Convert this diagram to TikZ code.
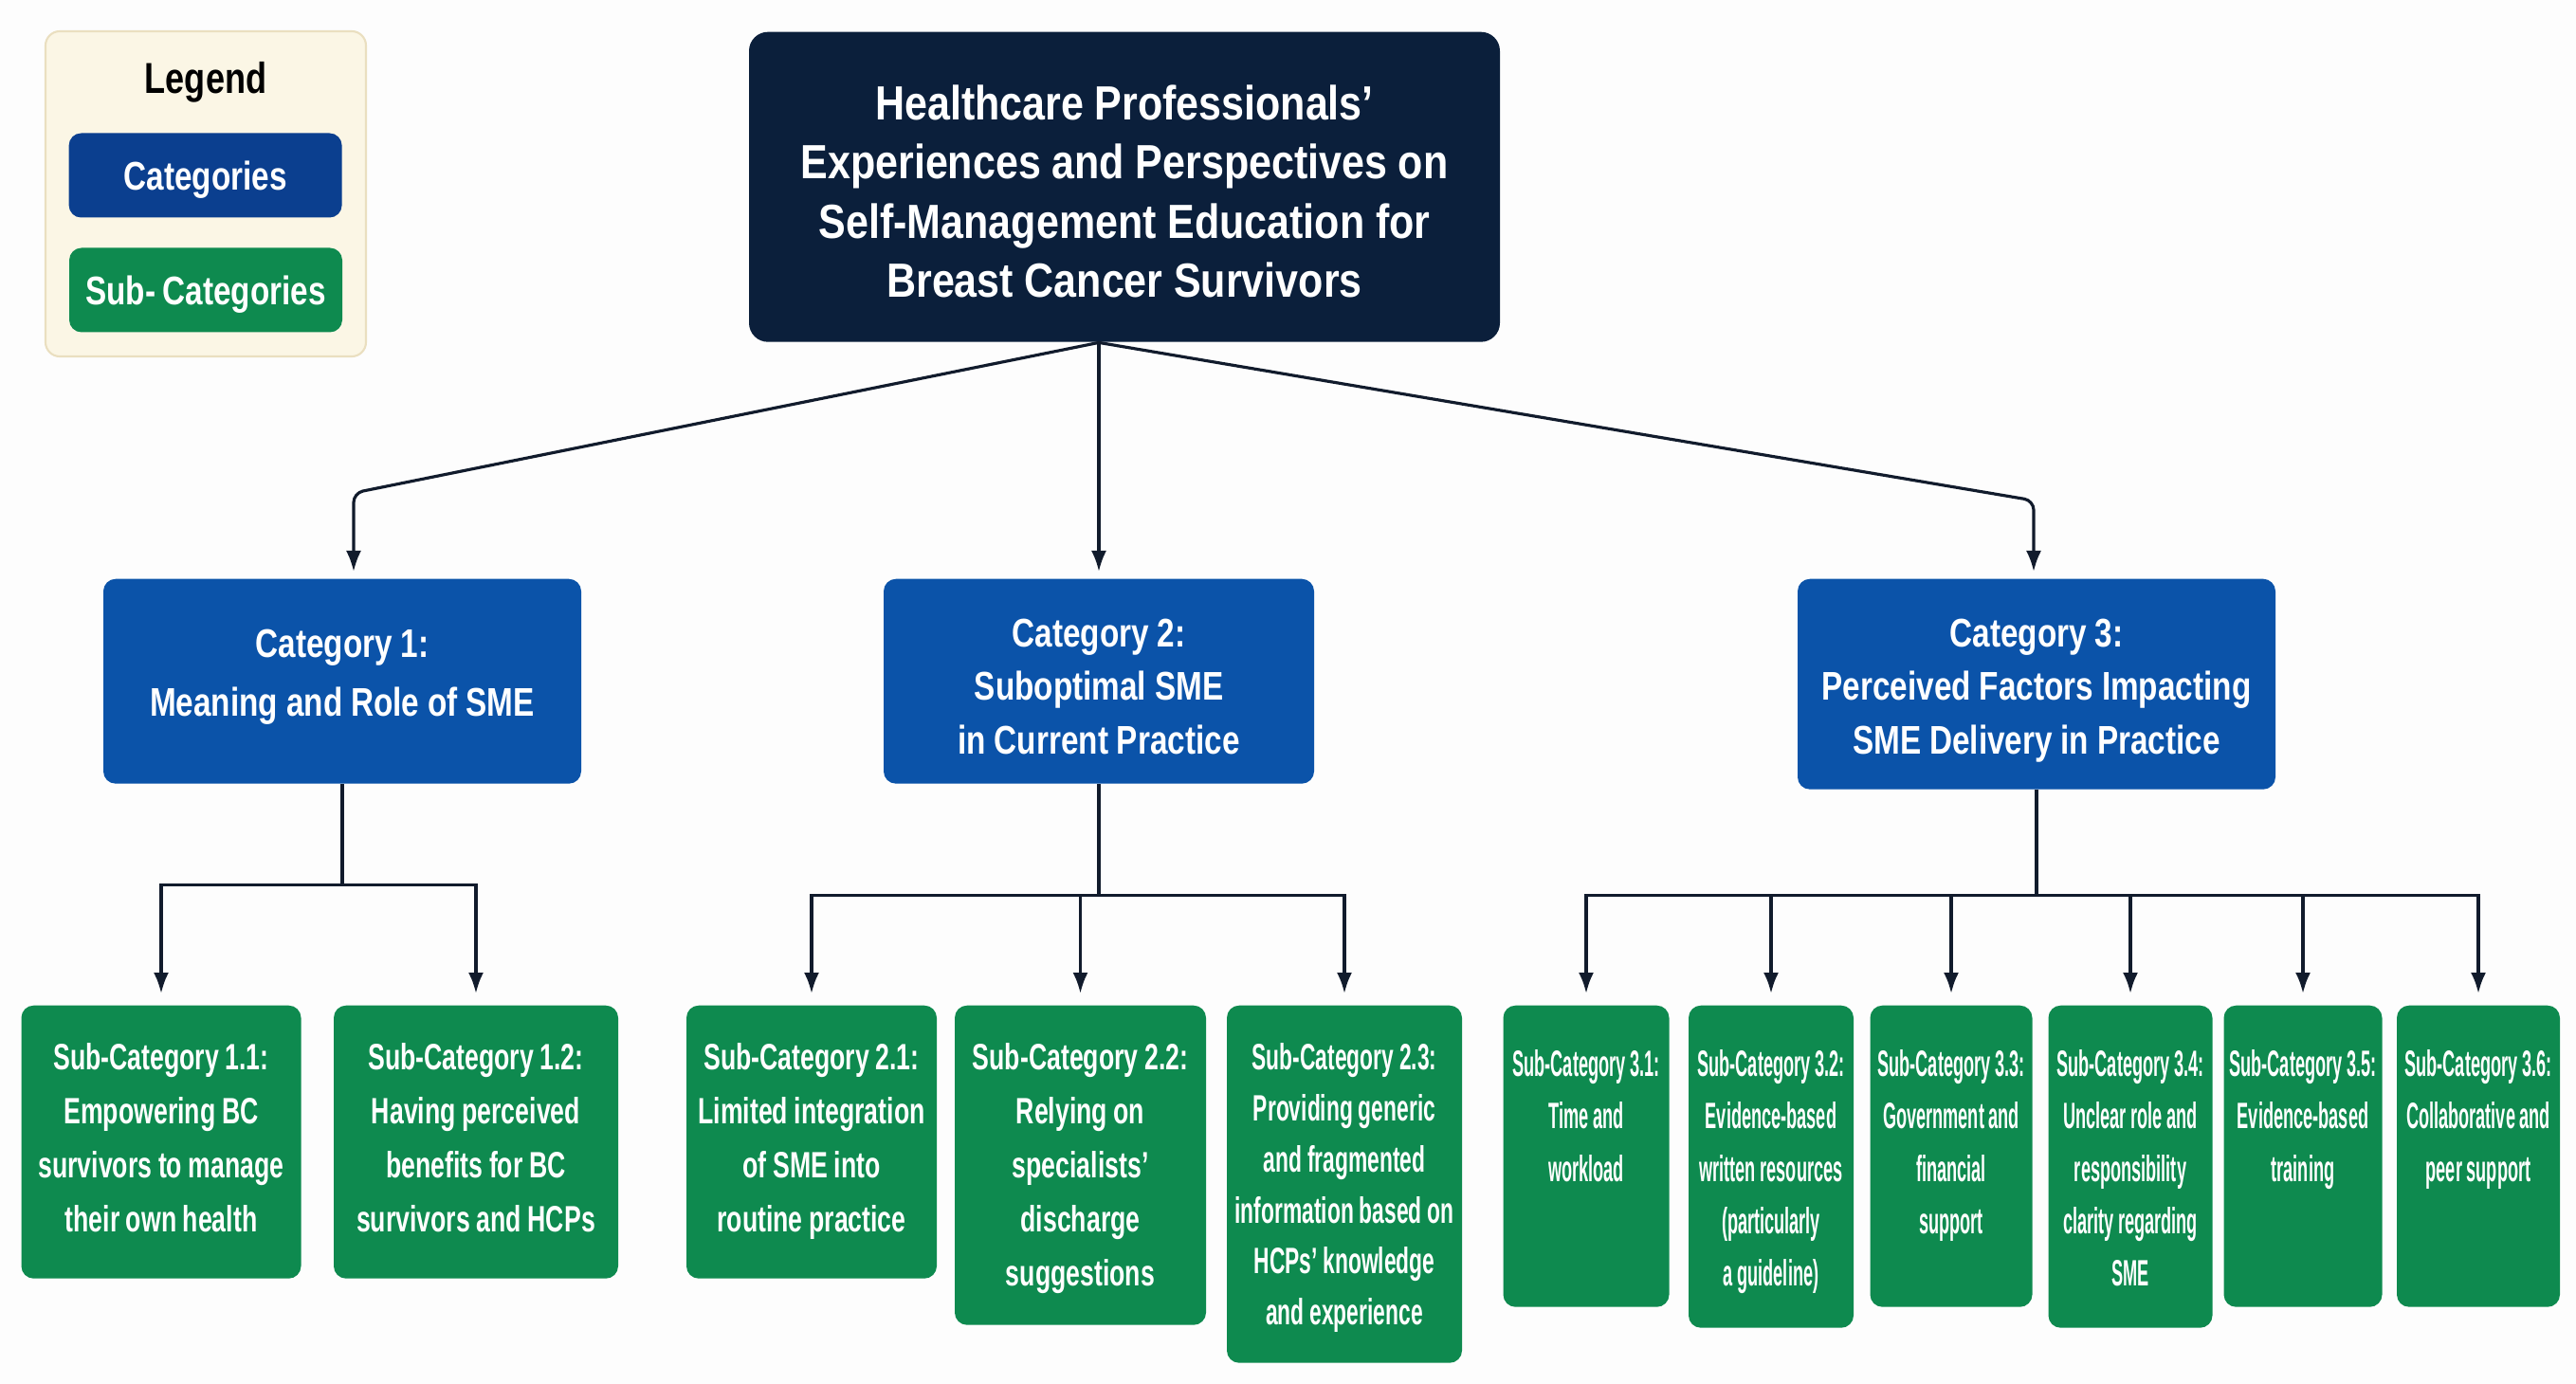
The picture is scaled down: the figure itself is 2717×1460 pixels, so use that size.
\documentclass[tikz,border=0pt]{standalone}
\usepackage{fontspec}
\usepackage{xcolor}
\usetikzlibrary{arrows.meta,positioning}
\newfontfamily\titlefont{Liberation Sans}[FakeStretch=0.85,WordSpace=0.85]
\newfontfamily\catfont{Liberation Sans}[FakeStretch=0.79,WordSpace=0.79]
\newfontfamily\subfont{Liberation Sans}[FakeStretch=0.69,WordSpace=0.69]
\newfontfamily\midfont{Liberation Sans}[FakeStretch=0.59,WordSpace=0.59]
\newfontfamily\narrowfont{Liberation Sans}[FakeStretch=0.47,WordSpace=0.47]
\definecolor{rootnavy}{HTML}{0B1F3B}
\definecolor{catblue}{HTML}{0B53A9}
\definecolor{legendblue}{HTML}{0B3F8F}
\definecolor{subgreen}{HTML}{0E8A4F}
\definecolor{legendcream}{HTML}{FBF6E5}
\definecolor{legendedge}{HTML}{EADFC0}
\definecolor{linknavy}{HTML}{111B2C}
\definecolor{paper}{HTML}{FDFDFD}
\tikzset{
  every node/.style={
    font=\catfont\bfseries
  },
  root/.style={
    shape=rectangle,
    rounded corners=2mm,
    fill=rootnavy,
    text=white,
    anchor=north,
    align=center,
    inner sep=0pt,
    text width=79.2mm,
    text height=9.25mm,
    text depth=23.45mm,
    font=\titlefont\bfseries\fontsize{14.4}{17.8}\selectfont,
    execute at begin node={\spaceskip=0.23em\relax}
  },
  category/.style n args={3}{
    shape=rectangle,
    rounded corners=1.3mm,
    fill=catblue,
    text=white,
    anchor=north,
    align=center,
    inner sep=0pt,
    text width=#1mm,
    text height=#2mm,
    text depth=#3mm,
    font=\catfont\bfseries\fontsize{12}{16}\selectfont,
    execute at begin node={\spaceskip=0.21em\relax}
  },
  subcat/.style n args={2}{
    shape=rectangle,
    rounded corners=1.3mm,
    fill=subgreen,
    text=white,
    anchor=north,
    inner sep=0pt,
    align=center,
    text width=#1mm,
    text height=6.8mm,
    text depth=#2mm,
    font=\subfont\bfseries\fontsize{11}{16.2}\selectfont,
    execute at begin node={\spaceskip=0.17em\relax}
  },
  subnarrow/.style n args={2}{
    subcat={#1}{#2},
    text height=7.5mm,
    font=\narrowfont\bfseries\fontsize{11}{15.7}\selectfont,
    execute at begin node={\spaceskip=0.12em\relax}
  },
  legendpanel/.style={
    shape=rectangle,
    rounded corners=1.5mm,
    fill=legendcream,
    draw=legendedge,
    line width=0.6pt,
    minimum width=33.8mm,
    minimum height=34.3mm
  },
  legendkey/.style={
    shape=rectangle,
    rounded corners=1.3mm,
    text=white,
    text depth=0pt,
    minimum width=28.8mm,
    minimum height=8.9mm,
    font=\catfont\bfseries\fontsize{12}{14}\selectfont
  },
  link/.style={
    draw=linknavy,
    line width=0.9pt,
    -{Latex[length=2.2mm,width=1.6mm]}
  }
}
\begin{document}
\begin{tikzpicture}[x=0.1mm,y=-0.1mm]

\fill[paper] (0,0) rectangle (2717,1460);

\node [legendpanel] (legend) at (217,204.5) {};
\node [font=\catfont\bfseries\fontsize{13}{15}\selectfont] (legendtitle) at (217,87) {Legend};
\node [legendkey, fill=legendblue] (keycat) at (216.6,185) {Categories};
\node [legendkey, fill=subgreen] (keysub) at (217,306) {Sub- Categories};

\node [root] (root) at (1186,33) {
  Healthcare Professionals’\\
  Experiences and Perspectives on\\
  Self-Management Education for\\
  Breast Cancer Survivors
};

\node [category={50.4}{8.25}{13.35}, font=\catfont\bfseries\fontsize{12}{17.7}\selectfont] (cat1) at (361,610) {
  Category 1:\\Meaning and Role of SME
};
\node [category={45.4}{7.2}{14.4}] (cat2) at (1159,610) {
  Category 2:\\Suboptimal SME\\in Current Practice
};
\node [category={50.4}{7.2}{15.0}] (cat3) at (2148,610) {
  Category 3:\\Perceived Factors Impacting\\SME Delivery in Practice
};

\node [subcat={29.5}{22.0}] (s11) at (170,1060) {
  Sub-Category 1.1:\\Empowering BC\\survivors to manage\\their own health
};
\node [subcat={30.0}{22.0}] (s12) at (502,1060) {
  Sub-Category 1.2:\\Having perceived\\benefits for BC\\survivors and HCPs
};
\node [subcat={26.4}{22.0}] (s21) at (856,1060) {
  Sub-Category 2.1:\\Limited integration\\of SME into\\routine practice
};
\node [subcat={26.5}{26.9}] (s22) at (1139.5,1060) {
  Sub-Category 2.2:\\Relying on\\specialists’\\discharge\\suggestions
};
\node [subcat={24.8}{30.9}, font=\midfont\bfseries\fontsize{11}{15.3}\selectfont,
  execute at begin node={\spaceskip=0.15em\relax}] (s23) at (1418,1060) {
  Sub-Category 2.3:\\Providing generic\\and fragmented\\information based on\\HCPs’ knowledge\\and experience
};
\node [subnarrow={17.5}{24.3}] (s31) at (1673,1060) {
  Sub-Category 3.1:\\Time and\\workload
};
\node [subnarrow={17.4}{26.5}] (s32) at (1868,1060) {
  Sub-Category 3.2:\\Evidence-based\\written resources\\(particularly\\a guideline)
};
\node [subnarrow={17.1}{24.3}] (s33) at (2058,1060) {
  Sub-Category 3.3:\\Government and\\financial\\support
};
\node [subnarrow={17.3}{26.5}] (s34) at (2247,1060) {
  Sub-Category 3.4:\\Unclear role and\\responsibility\\clarity regarding\\SME
};
\node [subnarrow={16.7}{24.3}] (s35) at (2429,1060) {
  Sub-Category 3.5:\\Evidence-based\\training
};
\node [subnarrow={17.2}{24.3}] (s36) at (2614,1060) {
  Sub-Category 3.6:\\Collaborative and\\peer support
};

\coordinate (rootout) at (root.south -| cat2.north);
\coordinate (bend1) at (373,520);
\coordinate (bend3) at (2145,528);
\draw [link, rounded corners=1mm, shorten >=0.7mm] (rootout) -- (bend1) -- (bend1 |- cat1.north);
\draw [link, shorten >=0.7mm] (rootout) -- (cat2.north);
\draw [link, rounded corners=1mm, shorten >=0.7mm] (rootout) -- (bend3) -- (bend3 |- cat3.north);

\path (cat1.south) ++(0,106) coordinate (bus1);
\path (cat2.south) ++(0,117) coordinate (bus2);
\path (cat3.south) ++(0,111) coordinate (bus3);
\draw [draw=linknavy, line width=0.9pt] (cat1.south) -- (bus1);
\draw [draw=linknavy, line width=0.9pt] (cat2.south) -- (bus2);
\draw [draw=linknavy, line width=0.9pt] (cat3.south) -- (bus3);
\foreach \s in {s11,s12}
  \draw [link, shorten >=1.2mm] (bus1) -| (\s.north);
\foreach \s in {s21,s22,s23}
  \draw [link, shorten >=1.2mm] (bus2) -| (\s.north);
\foreach \s in {s31,s32,s33,s34,s35,s36}
  \draw [link, shorten >=1.2mm] (bus3) -| (\s.north);

\end{tikzpicture}
\end{document}
